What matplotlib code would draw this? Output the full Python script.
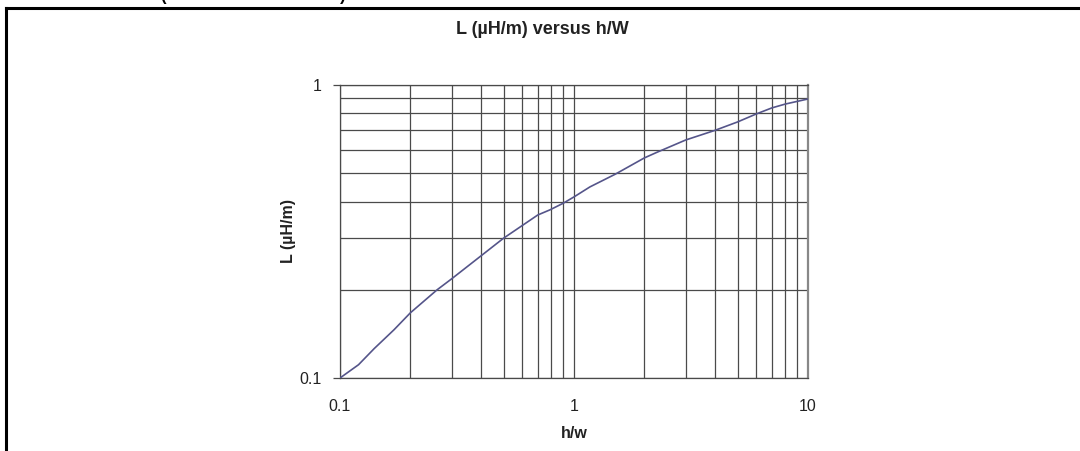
import matplotlib
matplotlib.use("Agg")
import matplotlib.pyplot as plt
from matplotlib.lines import Line2D
from matplotlib.ticker import LogLocator, FixedLocator, NullFormatter

plt.rcParams['font.family'] = ['Liberation Sans', 'DejaVu Sans']

hw = [0.1, 0.12, 0.14, 0.17, 0.2, 0.26, 0.3, 0.43, 0.5, 0.7, 0.79, 0.9, 1.0,
      1.17, 1.5, 2.0, 2.27, 3, 4, 5, 6, 7, 8, 10]
L = [0.1, 0.111, 0.126, 0.146, 0.167, 0.2, 0.218, 0.273, 0.3, 0.36, 0.375, 0.395,
     0.415, 0.449, 0.496, 0.564, 0.59, 0.649, 0.70, 0.748, 0.796, 0.835, 0.861, 0.896]

title = "L (µH/m) versus h/W"
xlabel = "h/w"
ylabel = "L (µH/m)"
xticks = [0.1, 1, 10]
xticklabels = ["0.1", "1", "10"]
yticks = [0.1, 1]
yticklabels = ["0.1", "1"]

fig = plt.figure(figsize=(10.8, 4.51), dpi=100)
ax = fig.add_axes([340/1080, 1-378/451, 468/1080, 293/451])
ax.set_xscale('log')
ax.set_yscale('log')
ax.set_xlim(0.1, 10)
ax.set_ylim(0.1, 1)

ax.plot(hw, L, color='#55558a', lw=1.2, zorder=3)

ax.xaxis.set_major_locator(FixedLocator(xticks))
ax.set_xticklabels(xticklabels)
ax.yaxis.set_major_locator(FixedLocator(yticks))
ax.set_yticklabels(yticklabels)
ax.xaxis.set_minor_locator(LogLocator(base=10, subs=range(2, 10)))
ax.yaxis.set_minor_locator(LogLocator(base=10, subs=range(2, 10)))
ax.xaxis.set_minor_formatter(NullFormatter())
ax.yaxis.set_minor_formatter(NullFormatter())

ax.grid(True, which='both', color='#4a4a4a', lw=0.9)
ax.tick_params(axis='x', which='both', length=0, pad=15, labelsize=11.5, labelcolor='#222222')
ax.tick_params(axis='y', which='major', length=5, width=0.9, color='#4a4a4a', pad=8,
               labelsize=11.5, labelcolor='#222222')
ax.tick_params(axis='y', which='minor', length=0)

for s in ['left', 'bottom', 'top']:
    ax.spines[s].set_color('#4a4a4a')
    ax.spines[s].set_linewidth(0.9)
ax.spines['right'].set_color('#888888')
ax.spines['right'].set_linewidth(1.6)

fig.text(542/1080, 1-29/451, title, ha='center', va='center', fontsize=13, fontweight='bold', color='#222222')
fig.text(574/1080, 1-433/451, xlabel, ha='center', va='center', fontsize=11.5, fontweight='bold', color='#222222')
fig.text(289/1080, 1-231/451, ylabel, ha='center', va='center', rotation=90, fontsize=11.5, fontweight='bold', color='#222222')

# frame
fig.add_artist(Line2D([5.5/1080, 1.0], [1-7.5/451, 1-7.5/451], color='black', lw=2.2))
fig.add_artist(Line2D([5.5/1080, 5.5/1080], [1-7.5/451, 0.0], color='black', lw=2.2))

# cut-off header text parentheses
fig.text(163/1080, 1-(-4)/451, "(", ha='center', va='center', fontsize=12, fontweight='bold')
fig.text(343/1080, 1-(-4)/451, ")", ha='center', va='center', fontsize=12, fontweight='bold')

fig.savefig("out.png", dpi=100)
